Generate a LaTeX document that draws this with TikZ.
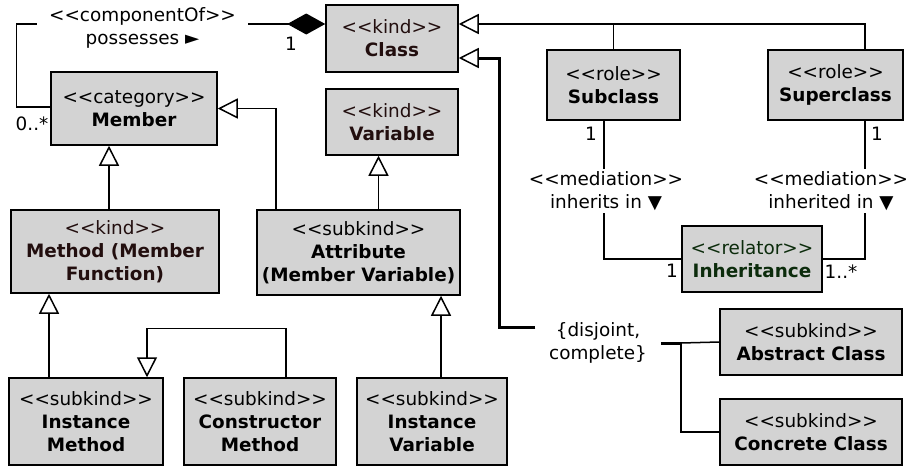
\documentclass[tikz,border=0pt]{standalone}
\usepackage{fontspec}
\setmainfont{DejaVu Sans}
\usetikzlibrary{positioning,arrows.meta,calc}
\definecolor{boxgray}{RGB}{211,211,211}
\definecolor{kindtext}{RGB}{34,14,14}
\definecolor{reltext}{RGB}{12,44,12}
\newcommand{\stype}[1]{<\kern0pt<#1>\kern0pt>}

\begin{document}
\begin{tikzpicture}[x=0.5pt, y=-0.5pt, line width=0.75pt,
  font=\fontsize{9.2}{11.5}\selectfont,
  umlbox/.style={draw=black, fill=boxgray, align=center, inner sep=0pt},
  gen/.style={-{Triangle[open, length=10pt, width=10pt, line width=0.75pt]}},
  lbl/.style={fill=white, align=center, inner sep=1pt}]

\useasboundingbox (0,0) rectangle (909,466);

% Classes
\node[umlbox, minimum width=66pt, minimum height=33.5pt, text=kindtext] (Class) at (392,38.5) {\stype{kind}\\\textbf{Class}};
\node[umlbox, minimum width=83pt, minimum height=36.5pt] (Member) at (134,108.5) {\stype{category}\\\textbf{Member}};
\node[umlbox, minimum width=66pt, minimum height=33pt, text=kindtext] (Variable) at (392,122) {\stype{kind}\\\textbf{Variable}};
\node[umlbox, minimum width=66.5pt, minimum height=35pt] (Subclass) at (613.5,85) {\stype{role}\\\textbf{Subclass}};
\node[umlbox, minimum width=67.5pt, minimum height=35pt] (Superclass) at (835.5,85) {\stype{role}\\\textbf{Superclass}};
\node[umlbox, minimum width=104pt, minimum height=41.5pt, text=kindtext] (Method) at (115,251.5) {\stype{kind}\\\textbf{Method (Member}\\\textbf{Function)}};
\node[umlbox, minimum width=101.5pt, minimum height=42.5pt] (Attribute) at (358.5,252.5) {\stype{subkind}\\\textbf{Attribute}\\\textbf{(Member Variable)}};
\node[umlbox, minimum width=70pt, minimum height=33pt, text=reltext] (Inheritance) at (752,259) {\stype{relator}\\\textbf{Inheritance}};
\node[umlbox, minimum width=91pt, minimum height=33pt] (Abstract) at (811,342) {\stype{subkind}\\\textbf{Abstract Class}};
\node[umlbox, minimum width=91pt, minimum height=33pt] (Concrete) at (811,432) {\stype{subkind}\\\textbf{Concrete Class}};
\node[umlbox, minimum width=77pt, minimum height=43.5pt] (InstMethod) at (86,421.5) {\stype{subkind}\\\textbf{Instance}\\\textbf{Method}};
\node[umlbox, minimum width=76pt, minimum height=43.5pt] (Constructor) at (260,421.5) {\stype{subkind}\\\textbf{Constructor}\\\textbf{Method}};
\node[umlbox, minimum width=75pt, minimum height=43.5pt] (InstVariable) at (432,421.5) {\stype{subkind}\\\textbf{Instance}\\\textbf{Variable}};

% Composition
\draw[-{Diamond[length=19pt, width=10.5pt]}] ($(Member.west)+(0,-1.5)$) -- ++(-34,0) |- ($(Class.west)+(0,-14.5)$);
\node[lbl, minimum width=105.5pt] (possLbl) at (142.5,28) {\stype{componentOf}\\possesses ►};
\node (mulClass) at (291,44) {1};
\node (mulMember) at (32,124) {0..*};

% Generalizations
\coordinate (genTop) at ($(Class.east)+(0,-14.5)$);
\draw[gen] ($(Superclass.north)+(29.5,0)$) |- (genTop);
\draw (Subclass.north) -- (Subclass.north |- genTop);
\draw[gen] ($(Method.north)+(-6,0)$) coordinate (m1) -- (m1 |- Member.south);
\draw[gen] ($(Attribute.north)+(-82.5,0)$) |- (Member.east);
\draw[gen] ($(Attribute.north)+(20,0)$) coordinate (a1) -- (a1 |- Variable.south);
\draw[gen] ($(InstMethod.north)+(-37,0)$) coordinate (i1) -- (i1 |- Method.south);
\draw[gen] ($(Constructor.north)+(26,0)$) -- ++(0,-49) -| ($(InstMethod.north)+(61,0)$);
\draw[gen] ($(InstVariable.north)+(9,0)$) coordinate (v1) -- (v1 |- Attribute.south);

% Generalization set
\node[minimum width=62pt, align=center, inner sep=0pt] (GS) at (598,343) {\{disjoint,\\complete\}};
\draw[gen, line width=1.5pt] ($(GS.west)+(0,-16)$) -- ++(-36,0) |- ($(Class.east)+(0,19.5)$);
\coordinate (split) at ($(GS.east)+(20,0)$);
\draw[line width=1.5pt] (GS.east) -- (split);
\draw (split) -- (Abstract.west);
\draw (split) |- (Concrete.west);

% Mediations
\draw ($(Subclass.south)+(-9.5,0)$) |- (Inheritance.west);
\draw ($(Superclass.south)+(29.5,0)$) |- (Inheritance.east);
\node[lbl] (medSub) at (606,191) {\stype{mediation}\\inherits in ▼};
\node[lbl] (medSup) at (831,191) {\stype{mediation}\\inherited in ▼};
\node (mulSub) at (591,134) {1};
\node (mulInhA) at (672,271) {1};
\node (mulSup) at (877,134) {1};
\node (mulInhB) at (841,272) {1..*};

\end{tikzpicture}
\end{document}
